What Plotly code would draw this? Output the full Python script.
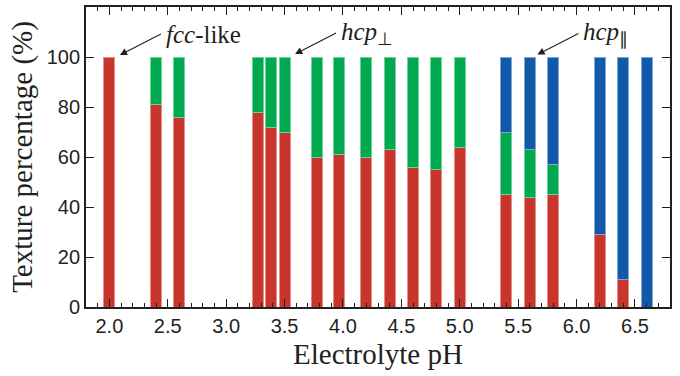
import plotly.graph_objects as go

# Data
ph = [2.0, 2.4, 2.6, 3.27, 3.38, 3.5, 3.78, 3.97, 4.2, 4.4, 4.6, 4.8, 5.0,
      5.4, 5.6, 5.8, 6.2, 6.4, 6.6]
fcc_like = [100, 81, 76, 78, 72, 70, 60, 61, 60, 63, 56, 55, 64,
            45, 44, 45, 29, 11, None]
hcp_perp = [None, 19, 24, 22, 28, 30, 40, 39, 40, 37, 44, 45, 36,
            25, 19, 12, None, None, None]
hcp_par = [None, None, None, None, None, None, None, None, None, None, None, None, None,
           30, 37, 43, 71, 89, 100]

y_ticks = [0, 20, 40, 60, 80, 100]
x_ticks = [2.0, 2.5, 3.0, 3.5, 4.0, 4.5, 5.0, 5.5, 6.0, 6.5]
x_ticktext = ["2.0", "2.5", "3.0", "3.5", "4.0", "4.5", "5.0", "5.5", "6.0", "6.5"]

RED, GREEN, BLUE = "#C8352D", "#00A84F", "#1259A8"
BAR_W = 0.094
INK = "#231F20"

fig = go.Figure()
fig.add_bar(x=ph, y=fcc_like, width=BAR_W, marker=dict(color=RED, line=dict(color="#E58E86", width=1)), name="fcc-like")
fig.add_bar(x=ph, y=hcp_perp, width=BAR_W, marker=dict(color=GREEN, line=dict(color="#6FD39A", width=1)), name="hcp perp")
fig.add_bar(x=ph, y=hcp_par, width=BAR_W, marker=dict(color=BLUE, line=dict(color="#7FA6D6", width=1)), name="hcp par")

ann_font = dict(family="Liberation Serif", size=25, color=INK)
annots = [
    (2.09, 100.8, "<i>fcc</i>-like"),
    (3.59, 101.2, "<i>hcp</i><sub>⊥</sub>"),
    (5.665, 101.0, "<i>hcp</i><sub>∥</sub>"),
]
for hx, hy, txt in annots:
    fig.add_annotation(x=hx, y=hy, ax=41, ay=-21, text=txt, showarrow=True,
                       xanchor="left", yanchor="middle", font=ann_font, borderpad=4,
                       arrowhead=2, arrowsize=1.3, arrowwidth=1.1, arrowcolor=INK)

axis_common = dict(showline=True, linewidth=1.8, linecolor=INK, mirror="allticks",
                   ticks="inside", tickcolor=INK, tickwidth=1.3, showgrid=False, zeroline=False,
                   tickfont=dict(family="Liberation Sans", size=20, color=INK))

fig.update_layout(
    width=680, height=376,
    margin=dict(l=86, r=10, t=5, b=69),
    paper_bgcolor="white", plot_bgcolor="white",
    barmode="stack", showlegend=False,
    xaxis=dict(range=[1.8, 6.8], tickvals=x_ticks, ticktext=x_ticktext, ticklen=8,
               minor=dict(ticks="inside", dtick=0.1, tick0=2.0, ticklen=4, tickcolor=INK, tickwidth=1.1, showgrid=False),
               title=dict(text="Electrolyte pH", font=dict(family="Liberation Serif", size=29, color=INK), standoff=8),
               **axis_common),
    yaxis=dict(range=[0, 120], tickvals=y_ticks, ticklen=8,
               title=dict(text="Texture percentage (%)", font=dict(family="Liberation Serif", size=29, color=INK), standoff=6),
               **axis_common),
)

fig.write_html("out.html")
